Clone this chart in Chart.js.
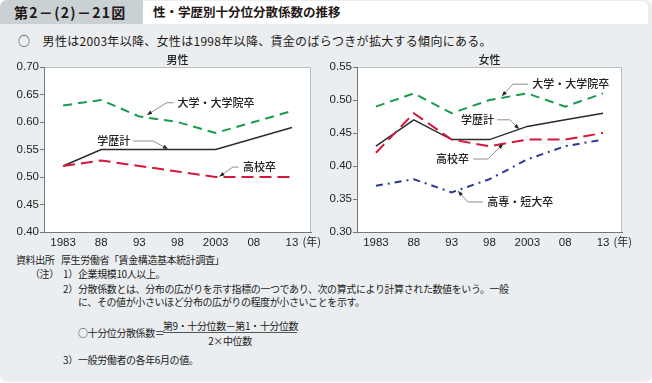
<!DOCTYPE html>
<html><head><meta charset="utf-8">
<script src="https://cdn.jsdelivr.net/npm/chart.js@4/dist/chart.umd.min.js"></script>
<style>
html,body{margin:0;padding:0;background:#fff;}
body{width:652px;height:383px;position:relative;overflow:hidden;font-family:"Noto Sans CJK JP","Noto Sans",sans-serif;color:#231815;}
#panel{position:absolute;left:0;top:0;width:652px;height:382px;background:#ebeef0;border-radius:7px;}
#tab{position:absolute;left:0;top:0;width:143px;height:24px;background:#cad1d5;border-top-left-radius:7px;}
#tabtext{position:absolute;left:14px;top:3px;font-size:14px;font-weight:700;letter-spacing:1.3px;line-height:18px;white-space:nowrap;}
#titlebar{position:absolute;left:143px;top:1px;width:505px;height:23px;background:#fff;border-top-right-radius:6px;}
#titletext{position:absolute;left:153px;top:4px;font-size:12.5px;font-weight:700;line-height:16px;white-space:nowrap;}
#sub{position:absolute;left:18px;top:32px;font-size:12px;line-height:17px;white-space:nowrap;letter-spacing:0.3px;}
canvas{position:absolute;}
.n{position:absolute;font-size:10px;line-height:14px;white-space:nowrap;letter-spacing:-0.4px;color:#222;}
#fracline{position:absolute;left:163px;top:332px;width:134px;height:0;border-top:1px solid #555;}
</style></head>
<body>
<div id="panel"></div>
<div id="tab"></div><div id="tabtext">第2－(2)－21図</div>
<div id="titlebar"></div><div id="titletext">性・学歴別十分位分散係数の推移</div>
<div id="sub">○　男性は2003年以降、女性は1998年以降、賃金のばらつきが拡大する傾向にある。</div>
<canvas id="cL" width="320" height="202" style="left:0;top:50px;width:320px;height:202px;"></canvas>
<canvas id="cR" width="332" height="202" style="left:320px;top:50px;width:332px;height:202px;"></canvas>

<div class="n" style="left:16px;top:253px;">資料出所</div>
<div class="n" style="left:61px;top:253px;">厚生労働省「賃金構造基本統計調査」</div>
<div class="n" style="left:30px;top:267px;">（注）</div>
<div class="n" style="left:63px;top:267px;">1）</div>
<div class="n" style="left:78px;top:267px;">企業規模10人以上。</div>
<div class="n" style="left:63px;top:282px;">2）</div>
<div class="n" style="left:78px;top:282px;">分散係数とは、分布の広がりを示す指標の一つであり、次の算式により計算された数値をいう。一般</div>
<div class="n" style="left:78px;top:295px;">に、その値が小さいほど分布の広がりの程度が小さいことを示す。</div>
<div class="n" style="left:78px;top:326px;">○十分位分散係数＝</div>
<div class="n" style="left:163px;top:319px;width:134px;text-align:center;">第9・十分位数－第1・十分位数</div>
<div id="fracline"></div>
<div class="n" style="left:163px;top:334px;width:134px;text-align:center;">2×中位数</div>
<div class="n" style="left:63px;top:353px;">3）</div>
<div class="n" style="left:78px;top:353px;">一般労働者の各年6月の値。</div>

<script>
// ---- data ----
const years = ['1983','88','93','98','2003','08','13'];
const maleUniv  = [0.63,0.64,0.61,0.60,0.58,0.60,0.62];
const maleTotal = [0.52,0.55,0.55,0.55,0.55,0.57,0.59];
const maleHigh  = [0.52,0.53,0.52,0.51,0.50,0.50,0.50];
const femUniv   = [0.49,0.51,0.48,0.50,0.51,0.49,0.51];
const femTotal  = [0.43,0.47,0.44,0.44,0.46,0.47,0.48];
const femHigh   = [0.42,0.48,0.44,0.43,0.44,0.44,0.45];
const femJunior = [0.37,0.38,0.36,0.38,0.41,0.43,0.44];
const maleRange = [0.40,0.70];
const femRange  = [0.30,0.55];
const tickStep = 0.05;

const C_UNIV='#1a9b4b', C_TOTAL='#2b2b2b', C_HIGH='#d5173b', C_JUN='#2b3790';
const CJK='"Noto Sans CJK JP","Noto Sans",sans-serif';
const NUM='"Liberation Sans",Arial,sans-serif';

function ds(label,data,color,dash,w){
  return {label,data,borderColor:color,backgroundColor:color,borderDash:dash,borderWidth:w,
    pointRadius:0,tension:0,fill:false,borderCapStyle:'butt'};
}

function frame(){return {id:'frame',beforeDraw(chart){
  const a=chart.chartArea,ctx=chart.ctx;ctx.save();
  ctx.fillStyle='#fff';ctx.fillRect(a.left,a.top,a.right-a.left,a.bottom-a.top);
  ctx.strokeStyle='#b9bec1';ctx.lineWidth=1;
  ctx.strokeRect(a.left+0.5,a.top+0.5,a.right-a.left-1,a.bottom-a.top);
  ctx.restore();}};}

function extras(title,items){return {id:'extras',afterDatasetsDraw(chart){
  const ctx=chart.ctx,xs=chart.scales.x,ys=chart.scales.y,a=chart.chartArea;
  const px=i=>xs.getPixelForValue(i), py=v=>ys.getPixelForValue(v);
  ctx.save();
  // panel title
  ctx.fillStyle='#222';ctx.font='500 11px '+CJK;ctx.textAlign='center';ctx.textBaseline='middle';
  ctx.fillText(title,(a.left+a.right)/2,a.top-7);
  // (年)
  ctx.font='11px '+CJK;ctx.textAlign='left';
  ctx.fillText('(年)',px(years.length-1)+10.5,a.bottom+10);
  // annotations
  items.forEach(it=>{
    const tx=px(it.tip[0]),ty=py(it.tip[1]),ex=px(it.elbow[0]),ey=py(it.elbow[1]),lx=px(it.lineEnd);
    ctx.strokeStyle='#8f8f8f';ctx.lineWidth=1;ctx.setLineDash([]);
    ctx.beginPath();ctx.moveTo(lx,ey);ctx.lineTo(ex,ey);ctx.lineTo(tx,ty);ctx.stroke();
    const ang=Math.atan2(ty-ey,tx-ex),L=5,W=2;
    const bx=tx-L*Math.cos(ang),by=ty-L*Math.sin(ang);
    ctx.fillStyle='#222';ctx.beginPath();ctx.moveTo(tx,ty);
    ctx.lineTo(bx-W*Math.sin(ang),by+W*Math.cos(ang));
    ctx.lineTo(bx+W*Math.sin(ang),by-W*Math.cos(ang));ctx.closePath();ctx.fill();
    ctx.font='500 11px '+CJK;ctx.textBaseline='middle';ctx.textAlign=it.align;
    ctx.fillText(it.text,px(it.labelX),ey);
  });
  ctx.restore();}};}

function makeChart(id,series,range,title,items,yWidth,padRight){
  const ticks=[];for(let v=range[0];v<=range[1]+1e-9;v+=tickStep)ticks.push(+v.toFixed(2));
  return new Chart(document.getElementById(id),{
    type:'line',
    data:{labels:years,datasets:series},
    options:{responsive:false,animation:false,
      layout:{padding:{top:17,right:padRight,left:0,bottom:0}},
      plugins:{legend:{display:false},tooltip:{enabled:false},title:{display:false}},
      scales:{
        x:{type:'category',offset:true,
          grid:{display:false,drawTicks:false},
          border:{display:true,color:'#777',width:1},
          ticks:{color:'#222',font:{family:NUM,size:11.5},padding:4,maxRotation:0,autoSkip:false},
          afterFit(s){s.height=20;}},
        y:{min:range[0],max:range[1],
          afterBuildTicks(s){s.ticks=ticks.map(v=>({value:v}));},
          grid:{drawOnChartArea:false,drawTicks:true,tickLength:4,color:'#777'},
          border:{display:true,color:'#777',width:1},
          ticks:{color:'#222',font:{family:NUM,size:11.5},padding:1,callback:v=>(+v).toFixed(2)},
          afterFit(s){s.width=yWidth;}}
      }},
    plugins:[frame(),extras(title,items)]
  });
}

makeChart('cL',[
  ds('大学・大学院卒',maleUniv,C_UNIV,[9,6],2),
  ds('高校卒',maleHigh,C_HIGH,[12,6],2),
  ds('学歴計',maleTotal,C_TOTAL,[],1.5)
],maleRange,'男性',[
  {text:'大学・大学院卒',tip:[2.2,0.613],elbow:[2.72,0.635],lineEnd:2.9,labelX:3.0,align:'left'},
  {text:'学歴計',tip:[2.75,0.551],elbow:[2.36,0.5655],lineEnd:1.84,labelX:1.76,align:'right'},
  {text:'高校卒',tip:[4.1,0.501],elbow:[4.45,0.518],lineEnd:4.6,labelX:4.72,align:'left'}
],44,9);

makeChart('cR',[
  ds('高専・短大卒',femJunior,C_JUN,[7,5,2,5],2),
  ds('大学・大学院卒',femUniv,C_UNIV,[9,6],2),
  ds('高校卒',femHigh,C_HIGH,[12,6],2),
  ds('学歴計',femTotal,C_TOTAL,[],1.5)
],femRange,'女性',[
  {text:'大学・大学院卒',tip:[3.33,0.506],elbow:[3.62,0.524],lineEnd:4.02,labelX:4.13,align:'left'},
  {text:'学歴計',tip:[3.78,0.456],elbow:[3.54,0.47],lineEnd:3.2,labelX:3.12,align:'right'},
  {text:'高校卒',tip:[3.36,0.4333],elbow:[2.96,0.4106],lineEnd:2.57,labelX:2.46,align:'right'},
  {text:'高専・短大卒',tip:[2.17,0.362],elbow:[2.43,0.3455],lineEnd:2.83,labelX:2.94,align:'left'}
],37,30);
</script>
</body></html>
